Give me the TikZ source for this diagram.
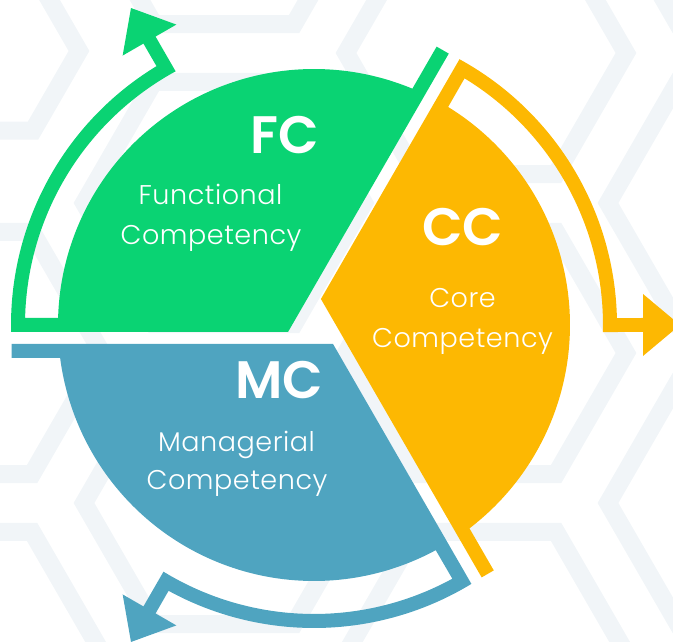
\documentclass[tikz,border=0pt]{standalone}
\usepackage{fontspec}
\setmainfont{Poppins}
\newfontfamily\abbrfont{Poppins}[UprightFont=* SemiBold]
\newfontfamily\namefont{Poppins}[UprightFont=* Light, LetterSpace=2]
\usepackage{tikz}
\definecolor{fcgreen}{RGB}{10,211,115}
\definecolor{ccyellow}{RGB}{253,184,2}
\definecolor{mcblue}{RGB}{79,164,192}
\definecolor{hexgray}{RGB}{241,245,248}
\tikzset{
  hexline/.style={draw=hexgray, line width=0.36cm},
  abbr/.style={text=white, anchor=base, inner sep=0pt,
    font=\abbrfont\fontsize{30}{36}\selectfont},
  fullname/.style={text=white, anchor=base, inner sep=0pt,
    font=\namefont\fontsize{15.4}{18}\selectfont}
}

\begin{document}
\begin{tikzpicture}[x=0.02cm, y=0.02cm]
  \useasboundingbox (-314,-317) rectangle (359,325);

  % Honeycomb in the background
  \begin{scope}
    \clip (-314,-317) rectangle (359,325);
    \foreach \cx/\cy/\s in {-327/274/92, -352/-28/140, -352/-328/140,
        -90/422/140, -90/122/140, -90/-178/140,
        172/272/140, 172/-28/140, 172/-328/140,
        434/422/140, 434/122/140, 434/-178/140}
      \draw[hexline] (\cx,\cy) +(0:\s) -- +(60:\s) -- +(120:\s)
        -- +(180:\s) -- +(240:\s) -- +(300:\s) -- cycle;
  \end{scope}

  % Three pieces: disc sector, outer band and arrow (same shape, turned)
  \foreach \ang/\col in {0/ccyellow, 120/fcgreen, 240/mcblue}
    \fill[\col, rotate=\ang]
      (6.93,25.99) -- (167.65,-252.4) -- (179.77,-245.4) -- (-52.6:256)
      arc[start angle=-52.6, end angle=58.4, radius=256]
      -- (58.6:289)
      arc[start angle=58.6, end angle=-1.39, radius=289]
      -- (329,-7) -- (329,-31) -- (366,0) -- (329,31) -- (329,7)
      -- (1.32:303)
      arc[start angle=1.32, end angle=61.3, radius=303]
      -- cycle;

  % Labels
  \node[abbr] (fc) at (-29.5,171) {FC};
  \node[fullname] (fcfirst) at (-103.5,120) {Functional};
  \node[fullname] (fcsecond) at (-103,80) {Competency};

  \node[abbr] (cc) at (148.5,79) {CC};
  \node[fullname] (ccfirst) at (148.5,17) {Core};
  \node[fullname] (ccsecond) at (148.5,-23) {Competency};

  \node[abbr] (mc) at (-35,-74) {MC};
  \node[fullname] (mcfirst) at (-77.5,-127) {Managerial};
  \node[fullname] (mcsecond) at (-77,-165) {Competency};
\end{tikzpicture}
\end{document}
